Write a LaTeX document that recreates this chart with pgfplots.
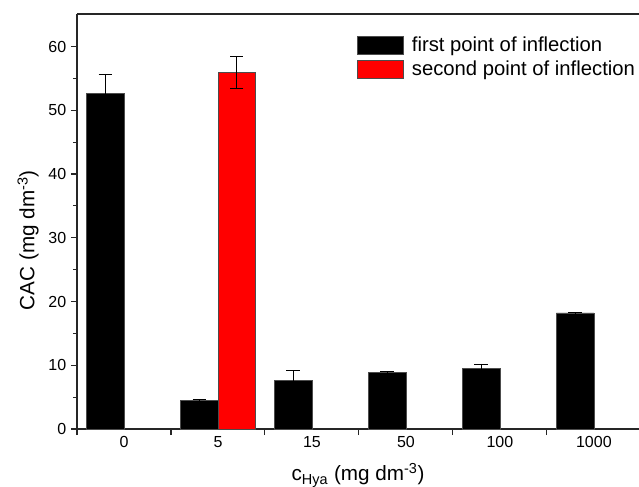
\documentclass[border=0pt]{standalone}
\usepackage{pgfplots}
\pgfplotsset{compat=1.18}
\usepackage{fontspec}
\setmainfont{Liberation Sans}

\definecolor{barred}{HTML}{FF0000}

\begin{document}
\begin{tikzpicture}
\useasboundingbox (-57.75pt,-42.75pt) rectangle (421.5pt,321.75pt);
\begin{axis}[
    scale only axis,
    width=421.5pt,
    height=311.25pt,
    ybar,
    bar width=0.4,
    xmin=-0.5, xmax=5.48,
    ymin=0, ymax=65.1,
    axis x line*=box,
    axis y line*=left,
    axis line style={line width=0.8pt, draw=black!85},
    tick align=outside,
    xtick pos=bottom,
    ytick pos=left,
    xtick={-0.5,0.5,1.5,2.5,3.5,4.5},
    xticklabels={},
    extra x ticks={0,1,2,3,4,5},
    extra x tick labels={0,5,15,50,100,1000},
    extra x tick style={major tick length=0pt},
    ytick={0,10,20,30,40,50,60},
    minor y tick num=1,
    major tick length=4.5pt,
    minor tick length=3pt,
    tick style={line width=0.8pt, black!85},
    /pgf/number format/assume math mode=true,
    tick label style={font=\fontsize{12}{14}\selectfont},
    xticklabel style={yshift=-2pt},
    label style={font=\fontsize{15.5}{17}\selectfont},
    xlabel={c\textsubscript{Hya} (mg dm\textsuperscript{-3})},
    ylabel={CAC (mg dm\textsuperscript{-3})},
    xlabel style={at={(axis description cs:0.5,-0.125)}, anchor=base},
    ylabel style={at={(axis description cs:-0.087,0.455)}, anchor=center},
    legend cell align=left,
    legend style={
        at={(axis description cs:0.497,0.952)},
        anchor=north west,
        draw=none,
        fill=none,
        font=\fontsize{15.2}{17}\selectfont,
        row sep=1.5pt,
        inner sep=0pt,
    },
]
\addplot+[
    bar shift=-0.2,
    fill=black, draw=black!70, line width=0.5pt,
    error bars/.cd, y dir=both, y explicit,
    error bar style={black, line width=0.6pt},
    error mark options={rotate=90, mark size=5pt, black, line width=0.6pt},
    /pgfplots/legend image code/.code={\draw[fill=black,draw=black!70] (0pt,-6.75pt) rectangle (34.5pt,6.75pt); \path (39pt,0pt);},
] coordinates {
    (0,52.6) +- (0,3.1)
    (1,4.45) +- (0,0.2)
    (2,7.65) +- (0,1.5)
    (3,8.85) +- (0,0.12)
    (4,9.5) +- (0,0.7)
    (5,18.2) +- (0,0.15)
};
\addplot+[
    bar shift=0.2,
    fill=barred, draw=black!70, line width=0.5pt,
    error bars/.cd, y dir=both, y explicit,
    error bar style={black, line width=0.6pt},
    error mark options={rotate=90, mark size=5pt, black, line width=0.6pt},
    /pgfplots/legend image code/.code={\draw[fill=barred,draw=black!70] (0pt,-6.75pt) rectangle (34.5pt,6.75pt); \path (39pt,0pt);},
] coordinates {
    (1,55.9) +- (0,2.5)
};
\legend{first point of inflection,second point of inflection}
\end{axis}
\end{tikzpicture}
\end{document}
